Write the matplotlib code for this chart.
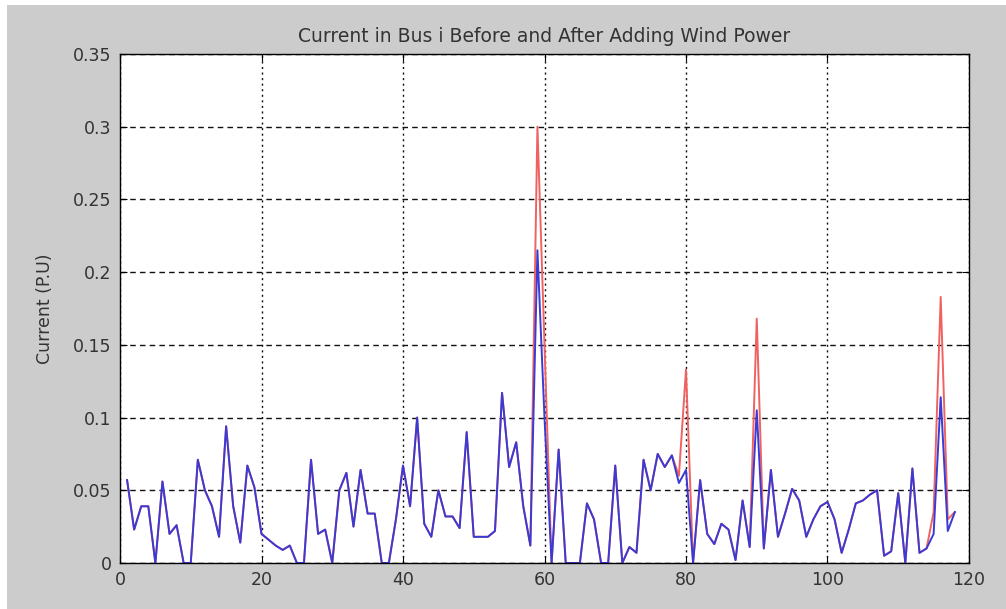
import numpy as np
import matplotlib.pyplot as plt
from matplotlib.patches import Rectangle

# bus numbers 1..118
bus = np.arange(1, 119)

# current after adding wind power (blue)
after = [0.057, 0.023, 0.039, 0.039, 0.0, 0.056, 0.02, 0.026, 0.0, 0.0,
         0.071, 0.05, 0.039, 0.018, 0.094, 0.039, 0.014, 0.067, 0.052, 0.02,
         0.016, 0.012, 0.009, 0.012, 0.0, 0.0, 0.071, 0.02, 0.023, 0.0,
         0.05, 0.062, 0.025, 0.064, 0.034, 0.034, 0.0, 0.0, 0.03, 0.067,
         0.039, 0.1, 0.027, 0.018, 0.05, 0.032, 0.032, 0.024, 0.09, 0.018,
         0.018, 0.018, 0.022, 0.117, 0.066, 0.083, 0.039, 0.012, 0.215, 0.1,
         0.0, 0.078, 0.0, 0.0, 0.0, 0.041, 0.03, 0.0, 0.0, 0.067,
         0.0, 0.011, 0.007, 0.071, 0.05, 0.075, 0.066, 0.074, 0.055, 0.064,
         0.0, 0.057, 0.02, 0.013, 0.027, 0.023, 0.002, 0.043, 0.011, 0.105,
         0.01, 0.064, 0.018, 0.034, 0.051, 0.043, 0.018, 0.03, 0.039, 0.042,
         0.03, 0.007, 0.023, 0.041, 0.043, 0.047, 0.05, 0.005, 0.008, 0.048,
         0.0, 0.065, 0.007, 0.01, 0.02, 0.114, 0.022, 0.035]

# current before adding wind power (red)
before = [0.057, 0.023, 0.039, 0.039, 0.0, 0.056, 0.02, 0.026, 0.0, 0.0,
          0.071, 0.05, 0.039, 0.018, 0.094, 0.039, 0.014, 0.067, 0.052, 0.02,
          0.016, 0.012, 0.009, 0.012, 0.0, 0.0, 0.071, 0.02, 0.023, 0.0,
          0.05, 0.062, 0.025, 0.064, 0.034, 0.034, 0.0, 0.0, 0.03, 0.067,
          0.039, 0.1, 0.027, 0.018, 0.05, 0.032, 0.032, 0.024, 0.09, 0.018,
          0.018, 0.018, 0.022, 0.117, 0.066, 0.083, 0.039, 0.012, 0.30, 0.15,
          0.0, 0.078, 0.0, 0.0, 0.0, 0.041, 0.03, 0.0, 0.0, 0.067,
          0.0, 0.011, 0.007, 0.071, 0.05, 0.075, 0.066, 0.074, 0.06, 0.133,
          0.0, 0.057, 0.02, 0.013, 0.027, 0.023, 0.002, 0.043, 0.011, 0.168,
          0.01, 0.064, 0.018, 0.034, 0.051, 0.043, 0.018, 0.03, 0.039, 0.042,
          0.03, 0.007, 0.023, 0.041, 0.043, 0.047, 0.05, 0.005, 0.008, 0.048,
          0.0, 0.065, 0.007, 0.01, 0.035, 0.183, 0.03, 0.035]

xticks = [0, 20, 40, 60, 80, 100, 120]
yticks = [0, 0.05, 0.1, 0.15, 0.2, 0.25, 0.3, 0.35]
ytick_labels = ['0', '0.05', '0.1', '0.15', '0.2', '0.25', '0.3', '0.35']

plt.rcParams['font.family'] = ['DejaVu Sans']

fig = plt.figure(figsize=(10.06, 6.09), dpi=100, facecolor='white')
# gray matlab-like background with thin white border top/left
fig.patches.append(Rectangle((7/1006, 0), 1, 1 - 5/609, transform=fig.transFigure,
                             facecolor='#cccccc', edgecolor='none', zorder=-10))

ax = fig.add_axes([120/1006, 1 - 563/609, 849/1006, 509/609])
ax.set_facecolor('white')

ax.plot(bus, before, color='#f06262', lw=1.4)
ax.plot(bus, after, color='#3a3ad4', lw=1.4)

ax.set_xlim(0, 120)
ax.set_ylim(0, 0.35)
ax.set_xticks(xticks)
ax.set_yticks(yticks)
ax.set_yticklabels(ytick_labels)

ax.xaxis.grid(True, color='#111111', linestyle=(0, (1.5, 2.5)), lw=1.0)
ax.yaxis.grid(True, color='#111111', linestyle=(0, (4, 3)), lw=1.0)

ax.tick_params(direction='in', length=5, top=True, right=True,
               labelsize=12.5, labelcolor='#333333', pad=6)
for s in ax.spines.values():
    s.set_linewidth(1.0)

ax.set_title('Current in Bus i Before and After Adding Wind Power',
             fontsize=13.5, color='#333333', pad=9)
ax.set_ylabel('Current (P.U)', fontsize=12.5, color='#333333', labelpad=14)

fig.savefig('out.png', dpi=100, facecolor=fig.get_facecolor())
